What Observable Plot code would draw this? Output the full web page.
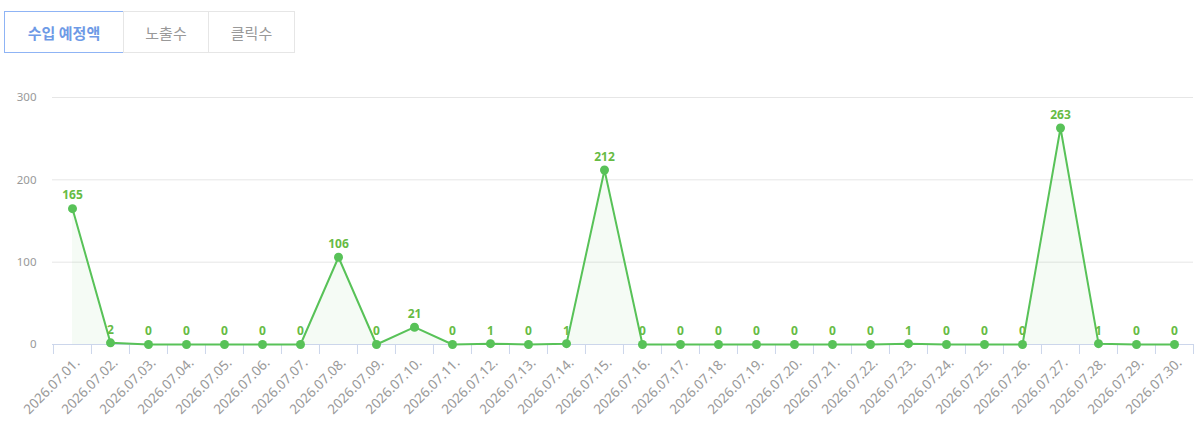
<!DOCTYPE html>
<html><head><meta charset="utf-8">
<script src="https://cdn.jsdelivr.net/npm/d3@7"></script>
<script src="https://cdn.jsdelivr.net/npm/@observablehq/plot@0.6"></script>
<style>
html,body{margin:0;padding:0;background:#fff;}
body{width:1204px;height:429px;position:relative;overflow:hidden;font-family:"Noto Sans CJK KR","Noto Sans",sans-serif;}
#tabs{position:absolute;left:4px;top:11px;display:flex;z-index:2;}
.tab{box-sizing:border-box;height:42px;display:flex;align-items:center;justify-content:center;font-size:15px;color:#999;border:1px solid #e6e6e6;background:#fff;}
.tab.active{border:1px solid #8fb4f5;color:#6e9ae6;font-weight:bold;}
#chart{position:absolute;left:0;top:0;}
</style></head>
<body>
<div id="tabs"></div>
<div id="chart"></div>
<script>
const tabs = ["수입 예정액", "노출수", "클릭수"];
const tabWidths = [120, 86, 87];
const dates = ["2026.07.01.","2026.07.02.","2026.07.03.","2026.07.04.","2026.07.05.","2026.07.06.","2026.07.07.","2026.07.08.","2026.07.09.","2026.07.10.","2026.07.11.","2026.07.12.","2026.07.13.","2026.07.14.","2026.07.15.","2026.07.16.","2026.07.17.","2026.07.18.","2026.07.19.","2026.07.20.","2026.07.21.","2026.07.22.","2026.07.23.","2026.07.24.","2026.07.25.","2026.07.26.","2026.07.27.","2026.07.28.","2026.07.29.","2026.07.30."];
const values = [165,2,0,0,0,0,0,106,0,21,0,1,0,1,212,0,0,0,0,0,0,0,1,0,0,0,263,1,0,0];
const yTicks = [0,100,200,300];

const tabBox = document.getElementById("tabs");
tabs.forEach((t,i)=>{
  const d=document.createElement("div");
  d.className="tab"+(i===0?" active":"");
  d.style.width=tabWidths[i]+"px";
  if(i>0) d.style.marginLeft="-1px";
  d.textContent=t;
  tabBox.appendChild(d);
});

const data = dates.map((d,i)=>({date:d, value:values[i]}));
const green = "#58c258";
const W=1204,H=429,mL=52,mR=11;
const step=(W-mL-mR)/dates.length;

const chart = Plot.plot({
  width: W, height: H,
  marginTop: 97, marginBottom: 85, marginLeft: mL, marginRight: mR,
  style:{fontFamily:'"Noto Sans","Noto Sans CJK KR",sans-serif', fontSize:"11px", color:"#666"},
  x:{type:"point", domain:dates, padding:0.5, label:null},
  y:{domain:[0,300], label:null},
  marks:[
    Plot.gridY(yTicks,{stroke:"#e6e6e6", strokeOpacity:1}),
    Plot.axisY(yTicks,{tickSize:0, tickPadding:16, fontSize:11.5, fill:"#999"}),
    Plot.ruleY([0],{stroke:"#ccd6eb"}),
    Plot.ruleX(dates,{x:d=>d, y1:0, y2:0, insetBottom:-10, dx:-step/2, stroke:"#ccd6eb"}),
    Plot.ruleX([dates[dates.length-1]],{x:d=>d, y1:0, y2:0, insetBottom:-10, dx:step/2, stroke:"#ccd6eb"}),
    Plot.axisX({tickSize:0, tickRotate:-45, tickPadding:16, dx:5, fontSize:13.5, fill:"#999"}),
    Plot.areaY(data,{x:"date", y:"value", fill:green, fillOpacity:0.06}),
    Plot.lineY(data,{x:"date", y:"value", stroke:green, strokeWidth:2}),
    Plot.dot(data,{x:"date", y:"value", r:4.5, fill:green, stroke:"none"}),
    Plot.text(data,{x:"date", y:"value", text:d=>String(d.value), dy:-13, fill:"#66bb44", fontWeight:"bold", fontSize:12})
  ]
});
document.getElementById("chart").appendChild(chart);
</script>
</body></html>
